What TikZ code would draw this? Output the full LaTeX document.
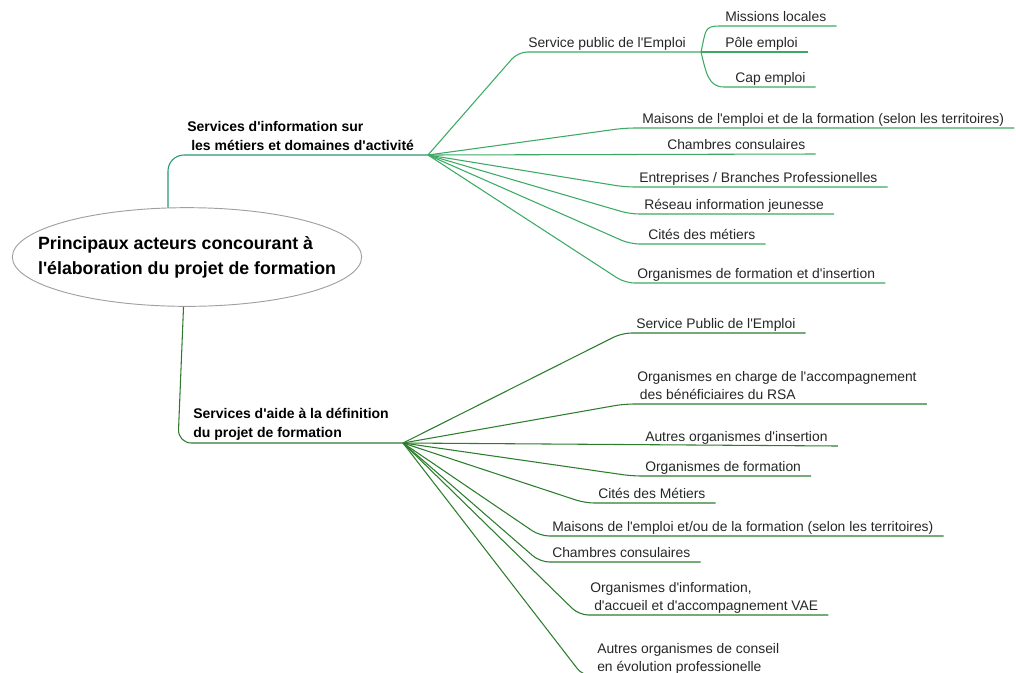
\documentclass[tikz,border=0pt]{standalone}
\usepackage{fontspec}
\setmainfont{Liberation Sans}[Ligatures=TeXOff]
\usetikzlibrary{shapes.geometric,calc}
\definecolor{upg}{RGB}{60,170,100}
\definecolor{lowg}{RGB}{45,125,45}
\definecolor{mainup}{RGB}{40,150,110}
\definecolor{mainlow}{RGB}{50,120,50}
\definecolor{ellgray}{RGB}{160,160,160}
\tikzset{
  leaftext/.style={inner sep=0pt, anchor=base west, font=\fontsize{10.4}{13.5}\selectfont, text=black!85},
  branchtext/.style={inner sep=0pt, anchor=base west, font=\bfseries\fontsize{10.5}{14.25}\selectfont},
  upline/.style={draw=upg, line width=0.8pt, rounded corners=7},
  lowline/.style={draw=lowg, line width=0.8pt, rounded corners=7},
}
% name, text x, line y, bend x, hub, style, text
\newcommand\leafitem[7]{%
  \node[leaftext] (#1) at (#2,#3-5) {#7};
  \draw[#6] (#5) -- (#4,#3) -- ($(#1.base east)+(10,5)$);
}
\newcommand\twol[2]{\begin{tabular}[b]{@{}l@{}}#1\\#2\end{tabular}}
\begin{document}
\begin{tikzpicture}[x=0.75pt,y=-0.75pt]
\useasboundingbox (0,0) rectangle (1016,672);
\clip (0,0) rectangle (1016,672);
\renewcommand\arraystretch{1}
% central
\node[ellipse, draw=ellgray, line width=0.7pt, fill=white, minimum width=262pt, minimum height=74pt, inner sep=0pt] (root) at (187,257) {};
\node[align=left, inner sep=0pt, font=\bfseries\fontsize{13.3}{18.75}\selectfont] (roottext) at (root.center)
  {Principaux acteurs concourant à\\l'élaboration du projet de formation};
% branch coordinates
\coordinate (hubA) at (428,155);
\coordinate (hubB) at (403,443);
\coordinate (hubS) at (701,52);
% branch texts
\node[branchtext] (brA) at (187,150) {\twol{Services d'information sur}{\hspace{3pt}les métiers et domaines d'activité}};
\node[branchtext] (brB) at (193,437) {\twol{Services d'aide à la définition}{du projet de formation}};
% main connectors
\draw[draw=mainup, line width=0.8pt, rounded corners=12] (root.111) -- (168,155) -- (hubA);
\draw[draw=mainlow, line width=0.8pt, rounded corners=10] (root.266) -- (178,443) -- (hubB);
% upper subtree
\node[leaftext] (sp) at (528,47) {Service public de l'Emploi};
\draw[upline] (hubA) -- (518,52) -- (hubS);
\node[leaftext] (ml) at (725,21) {Missions locales};
\draw[draw=upg, line width=0.8pt] (hubS) .. controls (706,30) and (704,26) .. (720,26) -- ($(ml.base east)+(10,5)$);
\node[leaftext] (pe) at (725,47) {Pôle emploi};
\draw[draw=upg, line width=0.8pt] (hubS) -- ($(pe.base east)+(10,5)$);
\node[leaftext] (ce) at (735,82) {Cap emploi};
\draw[draw=upg, line width=0.8pt] (hubS) .. controls (706,72) and (708,87) .. (724,87) -- ($(ce.base east)+(10,5)$);
\leafitem{mef}{642}{128}{625}{hubA}{upline}{Maisons de l'emploi et de la formation (selon les territoires)}
\node[leaftext] (cc) at (667,149) {Chambres consulaires};
\draw[upline] (hubA) -- ($(cc.base east)+(10,5)$);
\leafitem{ebp}{639}{187}{625}{hubA}{upline}{Entreprises / Branches Professionelles}
\leafitem{rij}{644}{214}{630}{hubA}{upline}{Réseau information jeunesse}
\leafitem{cdm}{648}{244}{630}{hubA}{upline}{Cités des métiers}
\leafitem{ofi}{637}{283}{625}{hubA}{upline}{Organismes de formation et d'insertion}
% lower subtree
\leafitem{spe}{636}{333}{622}{hubB}{lowline}{Service Public de l'Emploi}
\leafitem{rsa}{637}{404}{624}{hubB}{lowline}{\twol{Organismes en charge de l'accompagnement}{\hspace{2pt}des bénéficiaires du RSA}}
\node[leaftext] (aoi) at (645,441) {Autres organismes d'insertion};
\draw[lowline] (hubB) -- ($(aoi.base east)+(10,5)$);
\leafitem{odf}{645}{476}{632}{hubB}{lowline}{Organismes de formation}
\leafitem{cdM}{598}{503}{585}{hubB}{lowline}{Cités des Métiers}
\leafitem{meo}{552}{536}{540}{hubB}{lowline}{Maisons de l'emploi et/ou de la formation (selon les territoires)}
\leafitem{chc}{552}{562}{540}{hubB}{lowline}{Chambres consulaires}
\leafitem{vae}{590}{615}{579}{hubB}{lowline}{\twol{Organismes d'information,}{\hspace{3pt}d'accueil et d'accompagnement VAE}}
\leafitem{aoc}{597}{676}{583}{hubB}{lowline}{\twol{Autres organismes de conseil}{en évolution professionelle}}
\end{tikzpicture}
\end{document}
